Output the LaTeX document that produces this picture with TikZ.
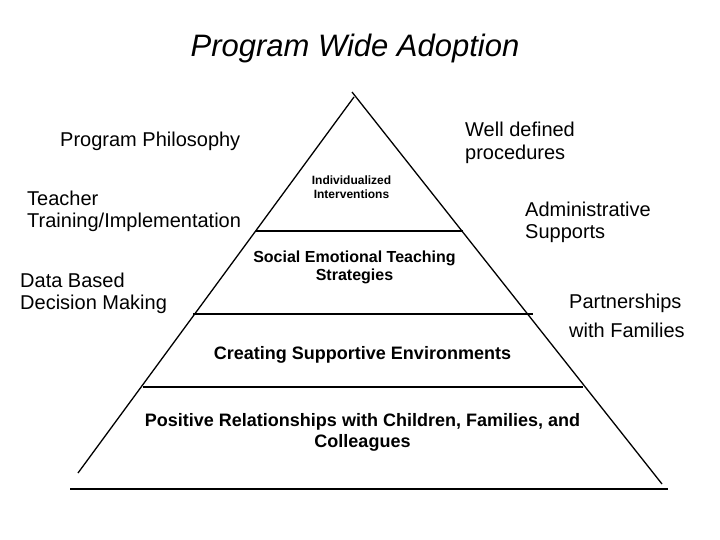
\documentclass[tikz,border=0pt]{standalone}
\usepackage{fontspec}
\setmainfont{Liberation Sans}
\begin{document}
\begin{tikzpicture}[x=1pt,y=-1pt,
  side/.style={font=\fontsize{20}{23}\selectfont, anchor=base west, inner sep=0pt},
  tier/.style={font=\bfseries\fontsize{18}{21}\selectfont, anchor=base, inner sep=0pt},
  edge/.style={line width=1.3pt}]
\useasboundingbox (0,0) rectangle (720,540);
\fill[white] (0,0) rectangle (720,540);
% title
\node[font=\itshape\fontsize{31}{36}\selectfont, anchor=base, inner sep=0pt] (title) at (355,57) {Program Wide Adoption};
% pyramid
\coordinate (apexL) at (354,97);
\coordinate (baseL) at (78,473);
\coordinate (apexR) at (352,92);
\coordinate (baseR) at (662,484);
\coordinate (botL) at (70,489);
\coordinate (botR) at (668,489);
\coordinate (t1L) at (256,231);
\coordinate (t1R) at (463,231);
\coordinate (t2L) at (193,314);
\coordinate (t2R) at (533,314);
\coordinate (t3L) at (143,387);
\coordinate (t3R) at (583,387);
\draw[edge] (apexL) -- (baseL);
\draw[edge] (apexR) -- (baseR);
\draw[edge] (botL) -- (botR);
\draw[edge] (t1L) -- (t1R);
\draw[edge] (t2L) -- (t2R);
\draw[edge] (t3L) -- (t3R);
% tier texts
\node[tier, font=\bfseries\fontsize{12}{14}\selectfont] (ind1) at (351.5,185) {Individualized};
\node[tier, font=\bfseries\fontsize{12}{14}\selectfont] (ind2) at (351.5,199) {Interventions};
\node[tier, font=\bfseries\fontsize{16}{18}\selectfont] (soc1) at (354.5,262) {Social Emotional Teaching};
\node[tier, font=\bfseries\fontsize{16}{18}\selectfont] (soc2) at (354.5,280) {Strategies};
\node[tier] (cre) at (362.5,359) {Creating Supportive Environments};
\node[tier] (pos1) at (362.5,426) {Positive Relationships with Children, Families, and};
\node[tier] (pos2) at (362.5,447) {Colleagues};
% side labels
\node[side] (phil) at (60,147) {Program Philosophy};
\node[side] (teach1) at (27,206) {Teacher};
\node[side] (teach2) at (27,228) {Training/Implementation};
\node[side] (data1) at (20,287) {Data Based};
\node[side] (data2) at (20,309) {Decision Making};
\node[side] (well1) at (465,137) {Well defined};
\node[side] (well2) at (465,160) {procedures};
\node[side] (adm1) at (525,216) {Administrative};
\node[side] (adm2) at (525,238) {Supports};
\node[side] (part1) at (569,308) {Partnerships};
\node[side] (part2) at (569,337) {with Families};
\end{tikzpicture}
\end{document}
